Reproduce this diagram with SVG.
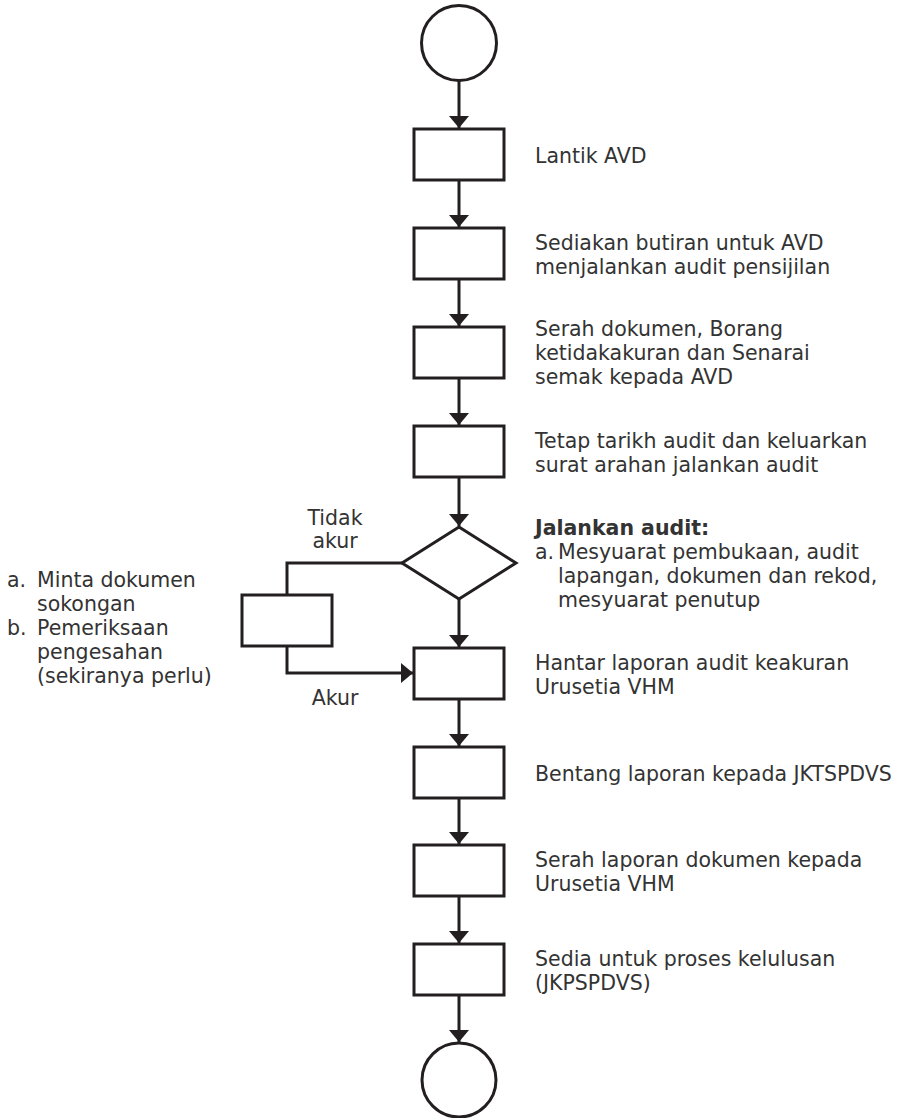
<svg xmlns="http://www.w3.org/2000/svg" width="918" height="1118" viewBox="0 0 918 1118">
<style>
.s{fill:#fff;stroke:#231f20;stroke-width:3}
.c{fill:none;stroke:#231f20;stroke-width:3}
.t{font-family:"DejaVu Sans",sans-serif;font-size:20.5px;fill:#333}
.b{font-weight:bold}
</style>
<defs>
<marker id="ah" viewBox="0 0 12 20" refX="12" refY="10" markerWidth="12" markerHeight="20" markerUnits="userSpaceOnUse" orient="auto">
<path d="M0,0 L12,10 L0,20 Z" fill="#231f20"/>
</marker>
</defs>
<rect width="918" height="1118" fill="#fff"/>
<g id="connectors">
<line class="c" x1="459" y1="80" x2="459" y2="128" marker-end="url(#ah)"/>
<line class="c" x1="459" y1="180" x2="459" y2="227" marker-end="url(#ah)"/>
<line class="c" x1="459" y1="279" x2="459" y2="326" marker-end="url(#ah)"/>
<line class="c" x1="459" y1="378" x2="459" y2="425" marker-end="url(#ah)"/>
<line class="c" x1="459" y1="477" x2="459" y2="526" marker-end="url(#ah)"/>
<line class="c" x1="459" y1="599" x2="459" y2="647" marker-end="url(#ah)"/>
<line class="c" x1="459" y1="699" x2="459" y2="746" marker-end="url(#ah)"/>
<line class="c" x1="459" y1="798" x2="459" y2="844" marker-end="url(#ah)"/>
<line class="c" x1="459" y1="896" x2="459" y2="943" marker-end="url(#ah)"/>
<line class="c" x1="459" y1="995" x2="459" y2="1042" marker-end="url(#ah)"/>
<polyline class="c" points="402,563 287,563 287,595"/>
<polyline class="c" points="287,646 287,673 413,673" marker-end="url(#ah)"/>
<text class="t" x="335" y="525" text-anchor="middle">Tidak</text>
<text class="t" x="335" y="548" text-anchor="middle">akur</text>
<text class="t" x="335" y="705" text-anchor="middle">Akur</text>
</g>
<g id="start"><circle class="s" cx="459" cy="43" r="37.5"/></g>
<g id="n1"><rect class="s" x="414" y="129" width="90" height="51"/>
<text class="t" x="535" y="163">Lantik AVD</text></g>
<g id="n2"><rect class="s" x="414" y="228" width="90" height="51"/>
<text class="t" x="535" y="250">Sediakan butiran untuk AVD</text>
<text class="t" x="535" y="274">menjalankan audit pensijilan</text></g>
<g id="n3"><rect class="s" x="414" y="327" width="90" height="51"/>
<text class="t" x="535" y="336">Serah dokumen, Borang</text>
<text class="t" x="535" y="360">ketidakakuran dan Senarai</text>
<text class="t" x="535" y="384">semak kepada AVD</text></g>
<g id="n4"><rect class="s" x="414" y="426" width="90" height="51"/>
<text class="t" x="535" y="448">Tetap tarikh audit dan keluarkan</text>
<text class="t" x="535" y="472">surat arahan jalankan audit</text></g>
<g id="d1"><polygon class="s" points="459,527 516,563 459,599 402,563"/>
<text class="t b" x="535" y="535">Jalankan audit:</text>
<text class="t" x="535" y="559">a.</text>
<text class="t" x="558" y="559">Mesyuarat pembukaan, audit</text>
<text class="t" x="558" y="583">lapangan, dokumen dan rekod,</text>
<text class="t" x="558" y="607">mesyuarat penutup</text></g>
<g id="side"><rect class="s" x="242" y="595" width="90" height="51"/>
<text class="t" x="7" y="587">a.</text>
<text class="t" x="37" y="587">Minta dokumen</text>
<text class="t" x="37" y="611">sokongan</text>
<text class="t" x="7" y="635">b.</text>
<text class="t" x="37" y="635">Pemeriksaan</text>
<text class="t" x="37" y="659">pengesahan</text>
<text class="t" x="37" y="683">(sekiranya perlu)</text></g>
<g id="n5"><rect class="s" x="414" y="648" width="90" height="51"/>
<text class="t" x="535" y="670">Hantar laporan audit keakuran</text>
<text class="t" x="535" y="694">Urusetia VHM</text></g>
<g id="n6"><rect class="s" x="414" y="747" width="90" height="51"/>
<text class="t" x="535" y="781">Bentang laporan kepada JKTSPDVS</text></g>
<g id="n7"><rect class="s" x="414" y="845" width="90" height="51"/>
<text class="t" x="535" y="867">Serah laporan dokumen kepada</text>
<text class="t" x="535" y="891">Urusetia VHM</text></g>
<g id="n8"><rect class="s" x="414" y="944" width="90" height="51"/>
<text class="t" x="535" y="966">Sedia untuk proses kelulusan</text>
<text class="t" x="535" y="990">(JKPSPDVS)</text></g>
<g id="end"><circle class="s" cx="459" cy="1080" r="37"/></g>
</svg>
